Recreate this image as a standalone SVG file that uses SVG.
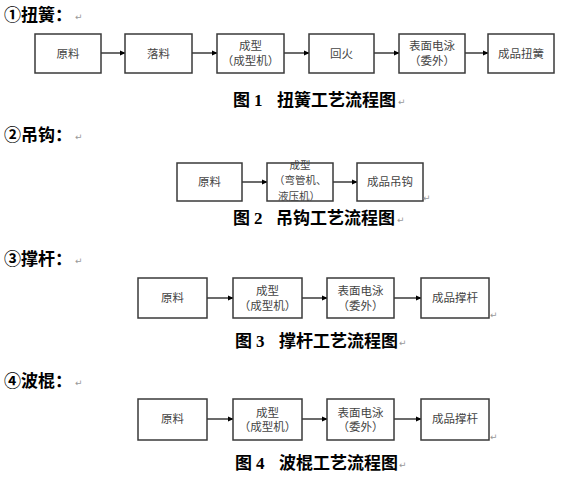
<svg xmlns="http://www.w3.org/2000/svg" width="564" height="482" viewBox="0 0 564 482">
<defs>
<style>
.box{fill:#fff;stroke:#3a3a3a;stroke-width:1.5}
.bt{font-family:"Noto Sans CJK SC","Liberation Sans",sans-serif;font-size:11.5px;fill:#444;text-anchor:middle}
.bs{font-family:"Noto Sans CJK SC","Liberation Sans",sans-serif;font-size:10.5px;fill:#444}
.hd{font-family:"Noto Sans CJK SC","Liberation Sans",sans-serif;font-size:17px;font-weight:bold;fill:#000}
.cap{font-family:"Liberation Serif","Noto Sans CJK SC",serif;font-size:17px;font-weight:bold;fill:#000}
.capc{font-family:"Noto Sans CJK SC","Liberation Serif",sans-serif;font-size:17px;font-weight:bold;fill:#000}
.rt{font-family:"DejaVu Sans",sans-serif;font-size:9px;fill:#999}
.ln{stroke:#3a3a3a;stroke-width:1.5;fill:none;marker-end:url(#ah)}
</style>
<marker id="ah" viewBox="0 0 8 8" refX="7" refY="4" markerWidth="6" markerHeight="6" markerUnits="userSpaceOnUse" orient="auto">
<path d="M0,0.5 L8,4 L0,7.5 z" fill="#000"/>
</marker>
</defs>
<rect width="564" height="482" fill="#fff"/>

<!-- headings -->
<g id="h1"><text class="hd" x="4" y="21">①扭簧：</text><text class="rt" x="75" y="20">↵</text></g>
<g id="h2"><text class="hd" x="4" y="141">②吊钩：</text><text class="rt" x="75" y="140">↵</text></g>
<g id="h3"><text class="hd" x="4" y="265">③撑杆：</text><text class="rt" x="75" y="264">↵</text></g>
<g id="h4"><text class="hd" x="4" y="387">④波棍：</text><text class="rt" x="75" y="386">↵</text></g>

<!-- connectors -->
<g id="connectors">
<line class="ln" x1="101" y1="53" x2="125" y2="53"/>
<line class="ln" x1="192" y1="53" x2="217" y2="53"/>
<line class="ln" x1="284" y1="53" x2="309" y2="53"/>
<line class="ln" x1="374" y1="53" x2="399" y2="53"/>
<line class="ln" x1="465" y1="53" x2="488" y2="53"/>
<line class="ln" x1="242" y1="182" x2="267" y2="182"/>
<line class="ln" x1="333" y1="182" x2="357" y2="182"/>
<line class="ln" x1="207" y1="298" x2="233" y2="298"/>
<line class="ln" x1="302" y1="298" x2="327" y2="298"/>
<line class="ln" x1="394" y1="298" x2="421" y2="298"/>
<line class="ln" x1="207" y1="419" x2="233" y2="419"/>
<line class="ln" x1="302" y1="419" x2="327" y2="419"/>
<line class="ln" x1="394" y1="419" x2="421" y2="419"/>
</g>

<!-- row 1 -->
<g id="r1n1"><rect class="box" x="35" y="34" width="66" height="39"/><text class="bt" x="68" y="57.5">原料</text></g>
<g id="r1n2"><rect class="box" x="125" y="34" width="67" height="39"/><text class="bt" x="158.5" y="57.5">落料</text></g>
<g id="r1n3"><rect class="box" x="217" y="34" width="67" height="39"/><text class="bt" x="250.5" y="49.5">成型</text><text class="bt" x="250.5" y="64.5">（成型机）</text></g>
<g id="r1n4"><rect class="box" x="309" y="34" width="65" height="39"/><text class="bt" x="341.5" y="57.5">回火</text></g>
<g id="r1n5"><rect class="box" x="399" y="34" width="66" height="39"/><text class="bt" x="432" y="49.5">表面电泳</text><text class="bt" x="432" y="64.5">（委外）</text></g>
<g id="r1n6"><rect class="box" x="488" y="34" width="66" height="39"/><text class="bt" x="521" y="57.5">成品扭簧</text></g>
<g id="cap1"><text class="capc" x="233" y="106">图</text><text class="cap" x="254" y="106">1</text><text class="capc" x="277" y="106">扭簧工艺流程图</text><text class="rt" x="398" y="105">↵</text></g>

<!-- row 2 -->
<g id="r2n1"><rect class="box" x="177" y="163" width="65" height="38"/><text class="bt" x="209.5" y="186">原料</text></g>
<g id="r2n2"><rect class="box" x="267" y="163" width="66" height="38"/><text class="bs" x="300" y="168.5" text-anchor="middle">成型</text><text class="bs" x="274" y="184">（弯管机、</text><text class="bs" x="278" y="199.5">液压机）</text></g>
<g id="r2n3"><rect class="box" x="357" y="163" width="66" height="38"/><text class="bt" x="390" y="186">成品吊钩</text><text class="rt" x="423" y="201">↵</text></g>
<g id="cap2"><text class="capc" x="233" y="224">图</text><text class="cap" x="254" y="224">2</text><text class="capc" x="276" y="224">吊钩工艺流程图</text><text class="rt" x="397" y="223">↵</text></g>

<!-- row 3 -->
<g id="r3n1"><rect class="box" x="138" y="278" width="69" height="40"/><text class="bt" x="172.5" y="302">原料</text></g>
<g id="r3n2"><rect class="box" x="233" y="278" width="69" height="40"/><text class="bt" x="267.5" y="294.5">成型</text><text class="bt" x="267.5" y="309.5">（成型机）</text></g>
<g id="r3n3"><rect class="box" x="327" y="278" width="67" height="40"/><text class="bt" x="360.5" y="294.5">表面电泳</text><text class="bt" x="360.5" y="309.5">（委外）</text></g>
<g id="r3n4"><rect class="box" x="421" y="278" width="68" height="40"/><text class="bt" x="455" y="302">成品撑杆</text><text class="rt" x="490" y="318">↵</text></g>
<g id="cap3"><text class="capc" x="235" y="347">图</text><text class="cap" x="256" y="347">3</text><text class="capc" x="279" y="347">撑杆工艺流程图</text><text class="rt" x="399" y="346">↵</text></g>

<!-- row 4 -->
<g id="r4n1"><rect class="box" x="138" y="399" width="69" height="41"/><text class="bt" x="172.5" y="423">原料</text></g>
<g id="r4n2"><rect class="box" x="233" y="399" width="69" height="41"/><text class="bt" x="267.5" y="416.5">成型</text><text class="bt" x="267.5" y="431">（成型机）</text></g>
<g id="r4n3"><rect class="box" x="327" y="399" width="67" height="41"/><text class="bt" x="360.5" y="416.5">表面电泳</text><text class="bt" x="360.5" y="431">（委外）</text></g>
<g id="r4n4"><rect class="box" x="421" y="399" width="68" height="41"/><text class="bt" x="455" y="423">成品撑杆</text><text class="rt" x="490" y="440">↵</text></g>
<g id="cap4"><text class="capc" x="235" y="469">图</text><text class="cap" x="256" y="469">4</text><text class="capc" x="279" y="469">波棍工艺流程图</text><text class="rt" x="399" y="468">↵</text></g>
</svg>
